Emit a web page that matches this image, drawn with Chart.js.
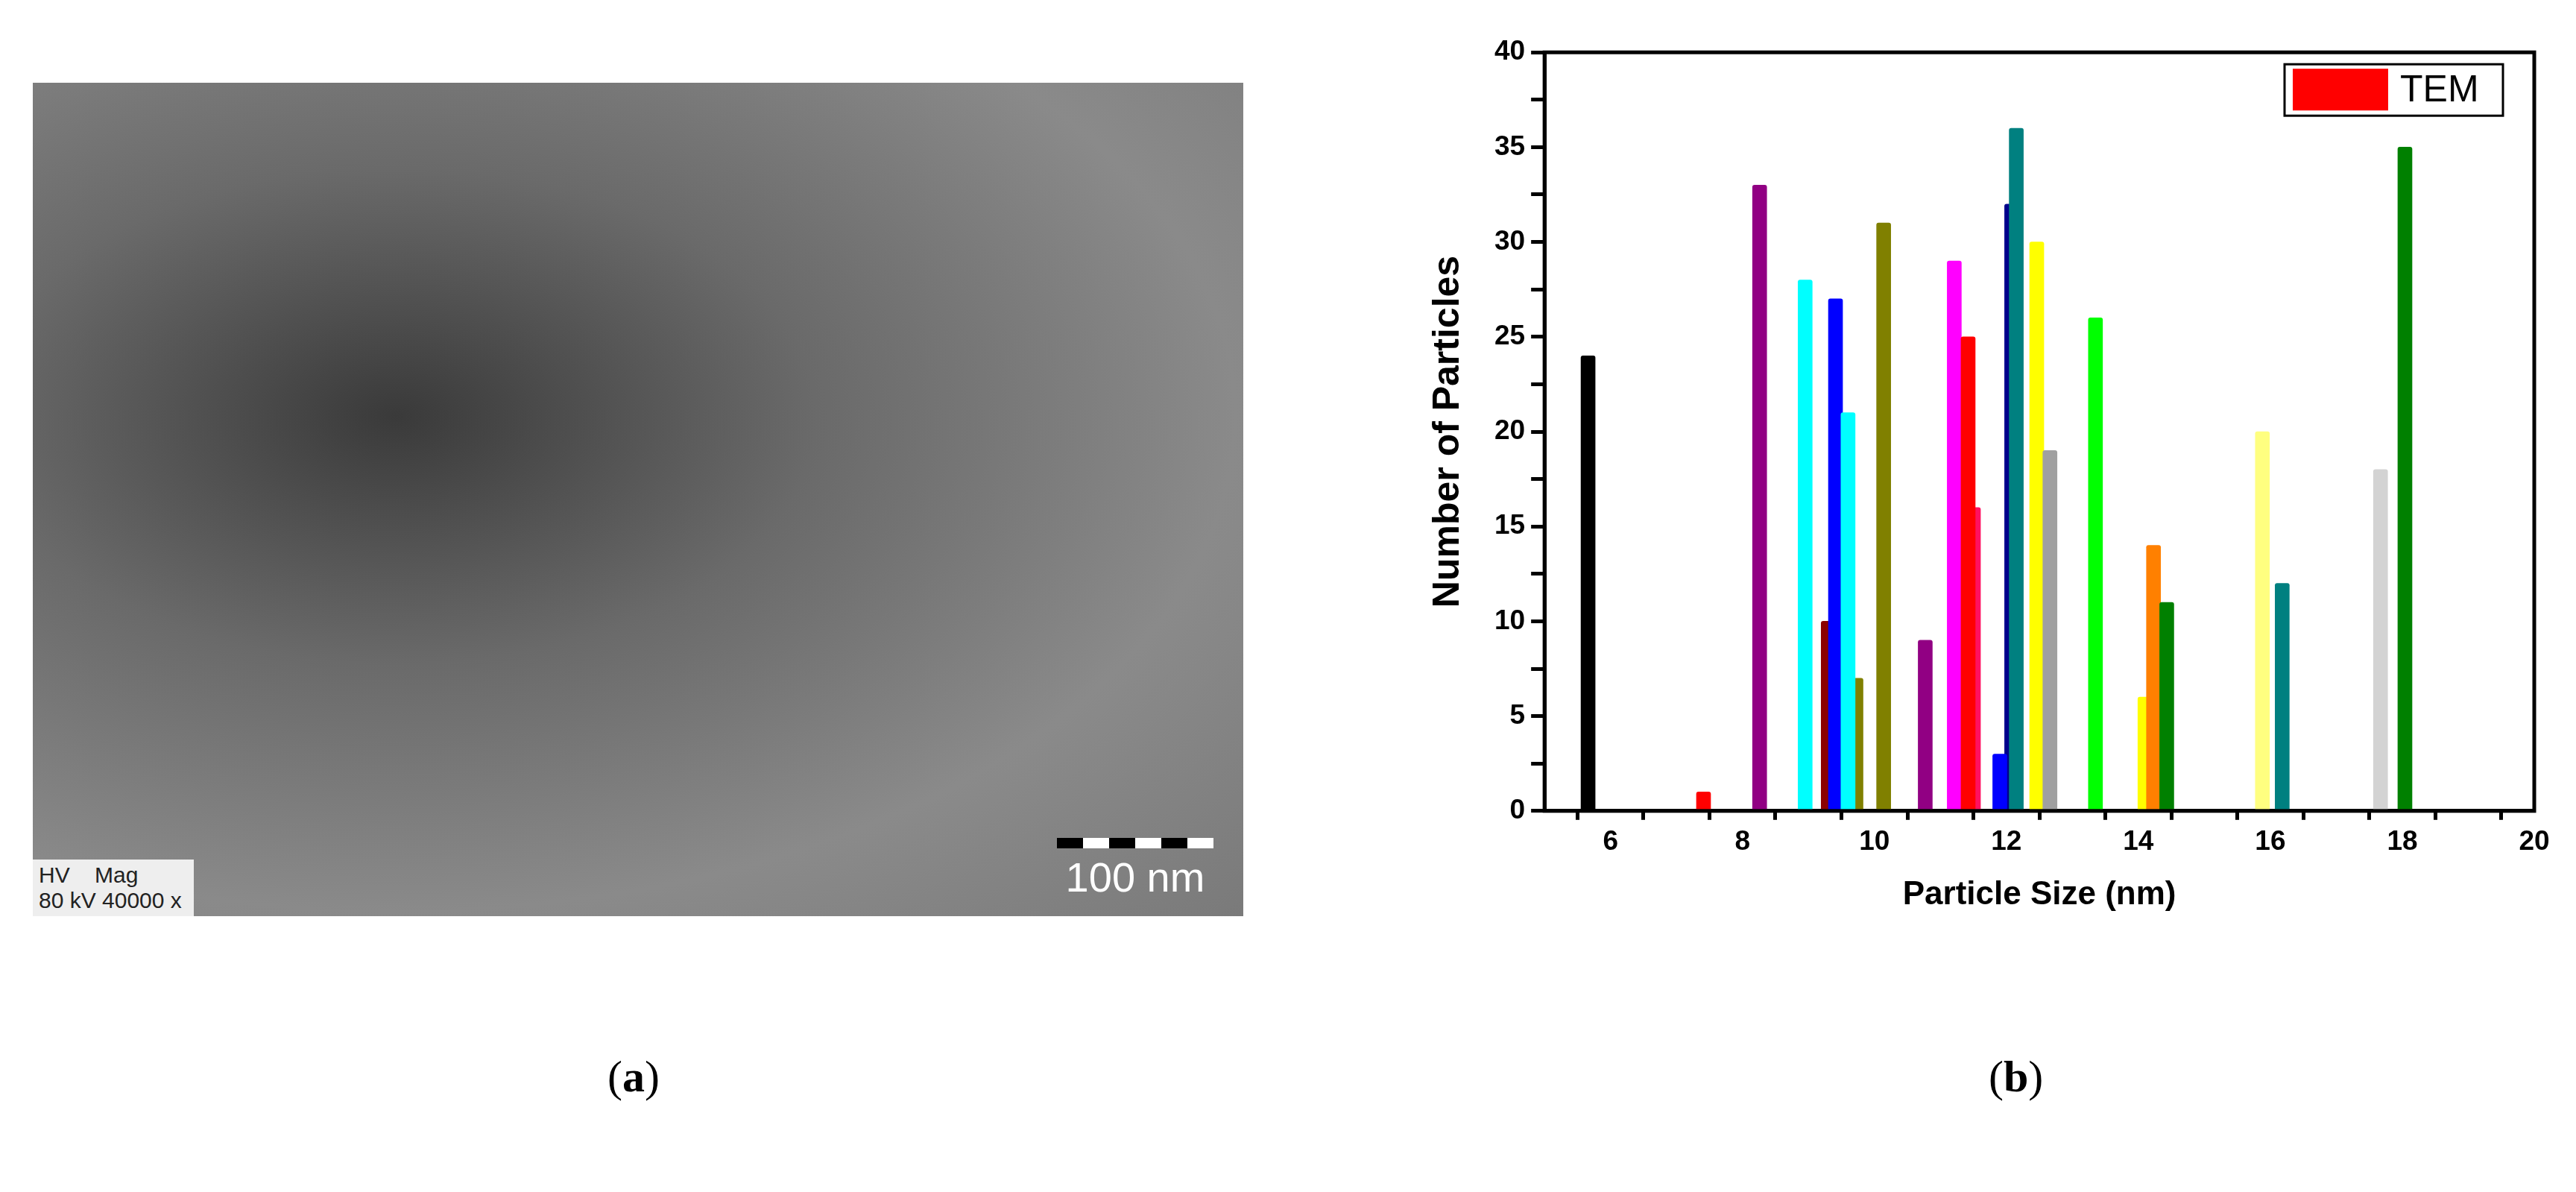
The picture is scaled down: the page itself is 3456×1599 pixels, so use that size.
<!DOCTYPE html>
<html><head><meta charset="utf-8">
<script src="https://cdn.jsdelivr.net/npm/chart.js@4.4.1/dist/chart.umd.min.js"></script>
<style>
body{margin:0;width:3456px;height:1599px;background:#fff;position:relative;overflow:hidden;font-family:"Liberation Sans",Arial,sans-serif}
#tem{position:absolute;left:44px;top:111px;width:1624px;height:1118px;
background:radial-gradient(ellipse at 30% 40%,#3a3a3a 0%,#6a6a6a 35%,#8a8a8a 70%,#7a7a7a 100%);}
#hv{position:absolute;left:0;bottom:0;background:#eee;color:#222;font-size:30px;line-height:34px;padding:4px 8px;width:200px}
#sb{position:absolute;right:40px;bottom:20px;color:#fff;font-size:56px;text-align:center}
#sb div{height:14px;width:210px;background:repeating-linear-gradient(90deg,#000 0 35px,#fff 35px 70px);margin-bottom:6px}
.cap{position:absolute;top:1410px;font-family:"Liberation Serif",serif;font-size:60px}
#wrap{position:absolute;left:1909px;top:40px;width:1531px;height:1191px}
</style></head><body>
<div id="tem"><div id="hv">HV &nbsp;&nbsp; Mag<br>80 kV 40000 x</div><div id="sb"><div></div>100 nm</div></div>
<div class="cap" style="left:815px">(<b>a</b>)</div>
<div class="cap" style="left:2668px">(<b>b</b>)</div>
<div id="wrap"><canvas id="c"></canvas></div>
<script>
const sizes  = [9.30, 9.72, 11.50, 12.08, 14.10, 5.66, 7.41, 8.26, 8.95, 9.41, 9.60, 10.14, 10.77, 11.21, 11.42, 11.90, 12.15, 12.46, 12.66, 13.35, 14.23, 14.43, 15.88, 16.18, 17.67, 18.04];
const counts = [10, 7, 16, 32, 6, 24, 1, 33, 28, 27, 21, 31, 9, 29, 25, 3, 36, 30, 19, 26, 14, 11, 20, 12, 18, 35];
const colors = ['#8b0000','#808000','#ff1060','#00008b','#ffff00','#000000','#ff0000','#910083','#00ffff','#0000ff','#00ffff','#808000','#910083','#ff00ff','#ff0000','#0000ff','#008080','#ffff00','#a0a0a0','#00ff00','#ff8000','#008000','#ffff80','#008080','#d3d3d3','#008000'];
const xTicks = [6,8,10,12,14,16,18,20];
const yTicks = [0,5,10,15,20,25,30,35,40];
const seriesName = 'TEM';

const frame={id:'frame',afterDraw(ch){const a=ch.chartArea,c=ch.ctx;c.save();c.lineWidth=5;c.strokeStyle='#000';c.strokeRect(a.left,a.top,a.right-a.left,a.bottom-a.top);
 const bx=a.right-335,by=a.top+16,bw=293,bh=69;
 c.lineWidth=3;c.strokeRect(bx,by,bw,bh);
 c.fillStyle='#ff0000';c.fillRect(bx+11,by+6,128,56);
 c.fillStyle='#000';c.font='50px "Liberation Sans",Arial';c.textBaseline='middle';c.fillText(seriesName,bx+155,by+bh/2+2);
 c.restore();}};
const tf={family:'"Liberation Sans",Arial',weight:'bold',size:37};
new Chart(document.getElementById('c'),{type:'bar',
data:{datasets:[{label:seriesName,data:sizes.map((s,i)=>({x:s,y:counts[i]})),backgroundColor:colors,barThickness:19,borderRadius:{topLeft:3,topRight:3}}]},
options:{responsive:true,maintainAspectRatio:false,animation:false,
layout:{padding:{right:40,top:20}},
plugins:{tooltip:{enabled:false},legend:{display:false}},
scales:{
x:{type:'linear',min:5,max:20,offset:false,
 ticks:{stepSize:1,autoSkip:false,color:'#000',font:tf,padding:8,callback:v=>xTicks.includes(v)?v:''},
 grid:{drawOnChartArea:false,tickLength:12,tickWidth:5,color:'#000'},border:{width:5,color:'#000'},
 title:{display:true,text:'Particle Size (nm)',color:'#000',font:{family:'"Liberation Sans",Arial',weight:'bold',size:44},padding:{top:14}}},
y:{min:0,max:40,
 ticks:{stepSize:2.5,autoSkip:false,color:'#000',font:tf,padding:8,callback:v=>yTicks.includes(v)?v:''},
 grid:{drawOnChartArea:false,tickLength:18,tickWidth:5,color:'#000'},border:{width:5,color:'#000'},
 title:{display:true,text:'Number of Particles',color:'#000',font:{family:'"Liberation Sans Narrow","Liberation Sans",Arial',weight:'bold',size:50},padding:{bottom:24}}}
}},plugins:[frame]});
</script></body></html>
